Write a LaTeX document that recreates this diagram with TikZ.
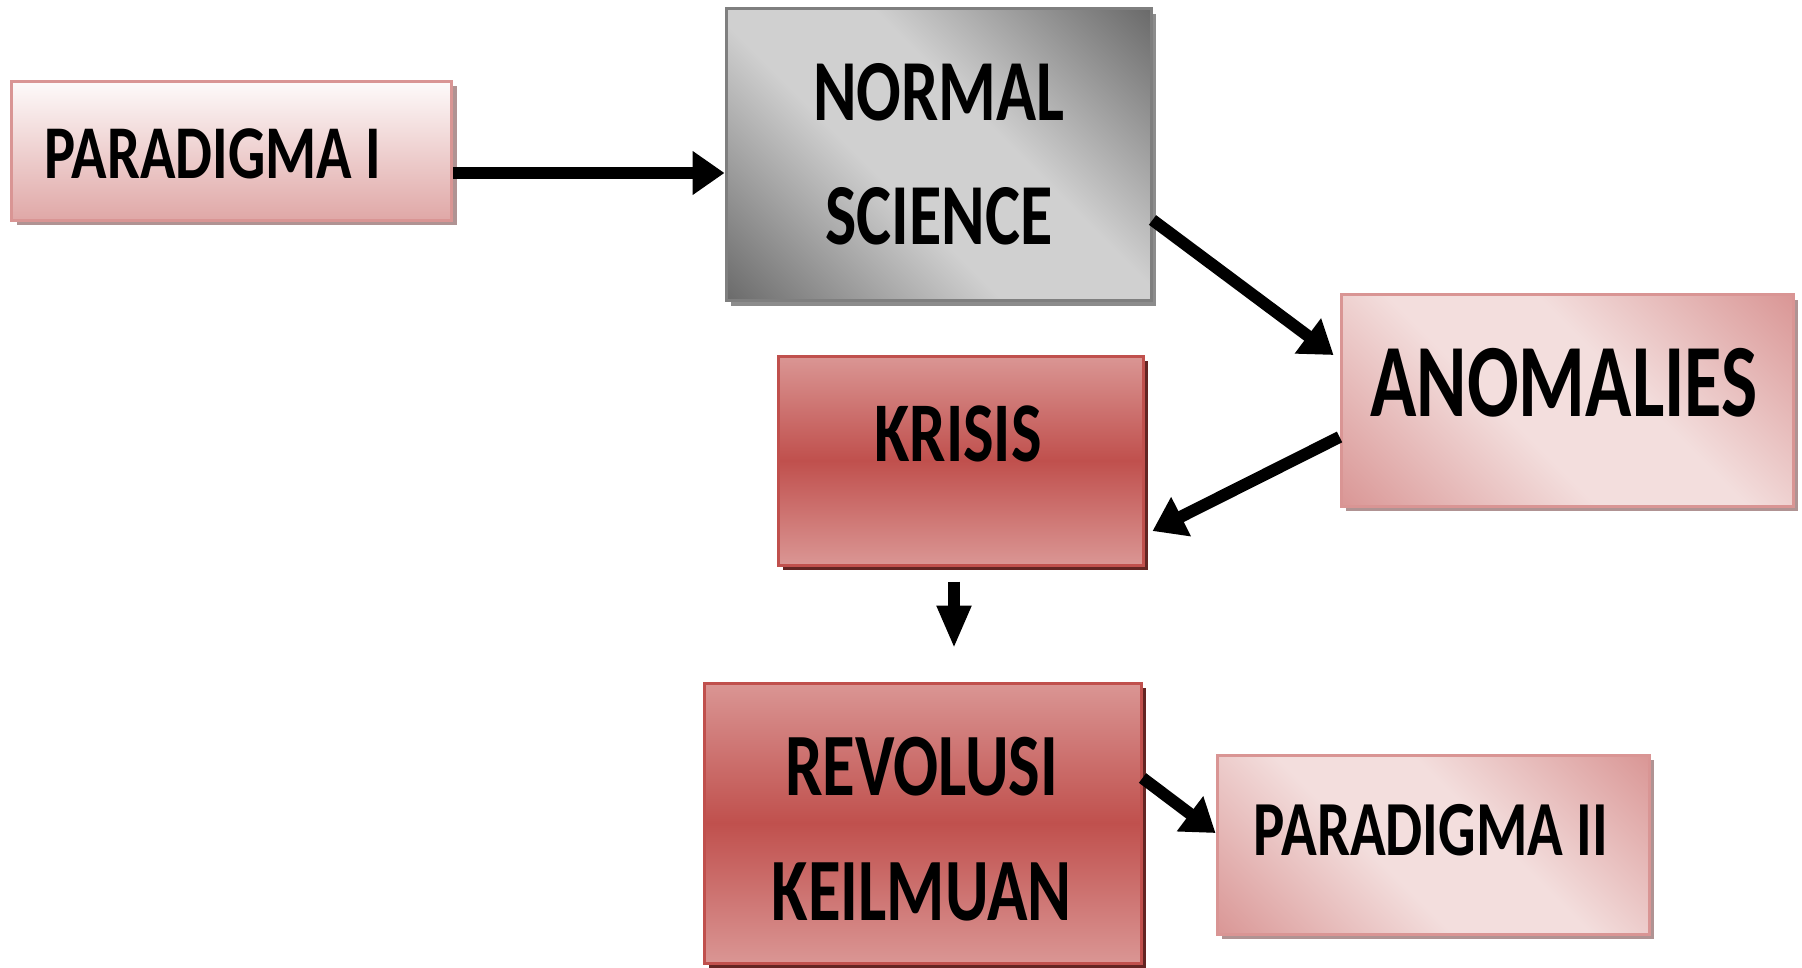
\documentclass[tikz,border=0pt]{standalone}
\usepackage{fontspec}
\setmainfont{Carlito}
\usepackage{graphicx}
\usetikzlibrary{arrows.meta,shadows,calc}
\definecolor{pdark}{HTML}{D99594}
\definecolor{plight}{HTML}{F3DEDD}
\definecolor{pborder}{HTML}{D99594}
\definecolor{pshadow}{HTML}{B09393}
\definecolor{rdark}{HTML}{C0504D}
\definecolor{rlight}{HTML}{DA9694}
\definecolor{rborder}{HTML}{C0504D}
\definecolor{rshadow}{HTML}{632523}
\definecolor{gdark}{HTML}{686868}
\definecolor{glight}{HTML}{D0D0D0}
\definecolor{gborder}{HTML}{7F7F7F}
\definecolor{gshadow}{HTML}{8C8C8C}
\pgfdeclarehorizontalshading{diagpink}{100bp}{color(0bp)=(pdark); color(14bp)=(pdark); color(42bp)=(plight); color(58bp)=(plight); color(86bp)=(pdark); color(100bp)=(pdark)}
\pgfdeclarehorizontalshading{diaggray}{100bp}{color(0bp)=(gdark); color(14bp)=(gdark); color(42bp)=(glight); color(58bp)=(glight); color(86bp)=(gdark); color(100bp)=(gdark)}
\newcommand{\sqz}[2][0.76]{\scalebox{#1}[1]{#2}}
\tikzset{
  boxbase/.style={rectangle, inner sep=0pt, line width=3pt},
  pinkv/.style={boxbase, draw=pborder, top color=white!85!plight, bottom color=pdark!75!plight,
     general shadow={fill=pshadow, shadow xshift=5pt, shadow yshift=-5pt}},
  pinkd/.style={boxbase, draw=pborder, shading=diagpink, shading angle=45,
     general shadow={fill=pshadow, shadow xshift=5pt, shadow yshift=-5pt}},
  graybox/.style={boxbase, draw=gborder, shading=diaggray, shading angle=45,
     general shadow={fill=gshadow, shadow xshift=5pt, shadow yshift=-5pt}},
  redbox/.style={boxbase, draw=rborder, top color=rlight, bottom color=rlight, middle color=rdark,
     general shadow={fill=rshadow, shadow xshift=5pt, shadow yshift=-5pt}},
  lbl/.style={inner sep=0pt, align=center, text=black},
  arr/.style={line width=12pt, -{Triangle[length=32pt,width=42pt]}},
  arrdown/.style={line width=12pt, -{Triangle[length=43pt,width=32pt]}},
}
\begin{document}
\begin{tikzpicture}[x=1pt,y=-1pt]
\useasboundingbox (0,0) rectangle (1802,968);
% boxes
\node[pinkv, minimum width=440pt, minimum height=139pt] (p1) at (231.5,151) {};
\node[graybox, minimum width=425pt, minimum height=292pt] (ns) at (938.5,155) {};
\node[pinkd, minimum width=452pt, minimum height=211pt] (an) at (1567,400.5) {};
\node[redbox, minimum width=365pt, minimum height=209pt] (kr) at (960.5,460.5) {};
\node[redbox, minimum width=437pt, minimum height=280pt] (rv) at (922.5,823) {};
\node[pinkd, minimum width=432pt, minimum height=179pt] (p2) at (1433,844.5) {};
% labels
\node[lbl, font=\bfseries\fontsize{76}{76}\selectfont] (p1t) at (212.6,154) {\sqz[0.77]{PARADIGMA I}};
\node[lbl, font=\bfseries\fontsize{87}{124}\selectfont] (nst) at (939,154) {\sqz{NORMAL}\\\sqz{SCIENCE}};
\node[lbl, font=\bfseries\fontsize{104}{104}\selectfont] (ant) at (1564,383) {\sqz[0.735]{ANOMALIES}};
\node[lbl, font=\bfseries\fontsize{85}{85}\selectfont] (krt) at (958,434) {\sqz{KRISIS}};
\node[lbl, font=\bfseries\fontsize{89}{125}\selectfont] (rvt) at (921.6,829) {\sqz[0.75]{REVOLUSI}\\\sqz[0.75]{KEILMUAN}};
\node[lbl, font=\bfseries\fontsize{78}{78}\selectfont] (p2t) at (1431,830) {\sqz[0.755]{PARADIGMA II}};
% connectors
\draw[arr] (p1.east |- 0,173) -- (ns.west |- 0,173);
\draw[arr] (ns.east |- 0,220) -- ($(an.west |- 0,355)+(-6,0)$);
\draw[arr] (an.west |- 0,437) -- ($(kr.east |- 0,531)+(8,0)$);
\draw[arrdown] ($(kr.south)+(-6.5,15)$) -- ($(kr.south |- rv.north)+(-6.5,-33)$);
\draw[arr] (rv.east |- 0,778) -- (p2.west |- 0,833);
\end{tikzpicture}
\end{document}
